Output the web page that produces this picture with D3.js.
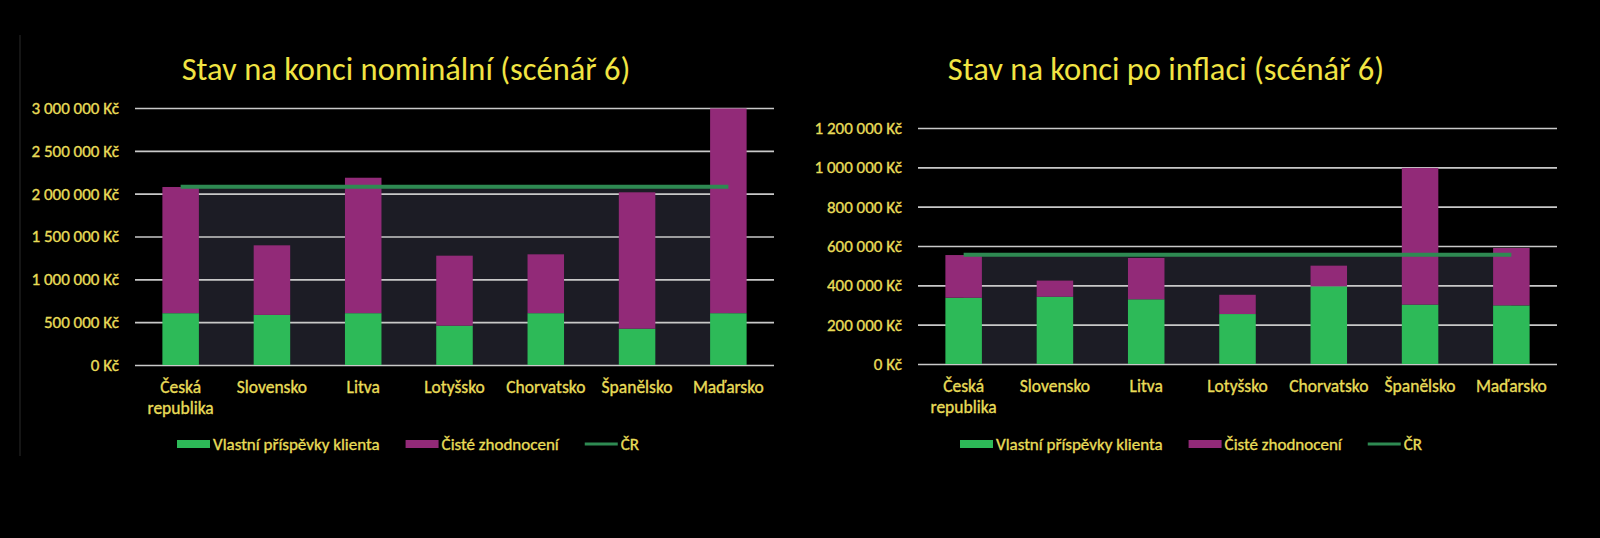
<!DOCTYPE html>
<html>
<head>
<meta charset="utf-8">
<script src="https://cdn.jsdelivr.net/npm/d3@7"></script>
<style>
  html, body { margin: 0; padding: 0; background: #000; }
  svg { display: block; font-family: Carlito, Calibri, Lato, sans-serif; }
</style>
</head>
<body>
<div id="chart"></div>
<script>
// categories
const countries = ["Česká republika", "Slovensko", "Litva", "Lotyšsko", "Chorvatsko", "Španělsko", "Maďarsko"];

// nominal (left chart)
const nominalContrib = [605000, 585000, 605000, 459000, 605000, 424000, 605000];
const nominalGrowth = [1473000, 812000, 1581000, 817000, 687000, 1592000, 2390000];
const nominalCR = [2080000, 2080000, 2080000, 2080000, 2080000, 2080000, 2080000];
const nominalTicks = [0, 500000, 1000000, 1500000, 2000000, 2500000, 3000000];

// after inflation (right chart)
const realContrib = [337000, 342000, 329000, 254000, 395000, 302000, 298000];
const realGrowth = [217000, 82000, 210000, 98000, 105000, 695000, 292000];
const realCR = [556000, 556000, 556000, 556000, 556000, 556000, 556000];
const realTicks = [0, 200000, 400000, 600000, 800000, 1000000, 1200000];

const seriesNames = ["Vlastní příspěvky klienta", "Čisté zhodnocení", "ČR"];

const width = 1600,
  height = 538;

const colGreen = "#2dba58",
  colPurple = "#922a78",
  colLine = "#2e8a52",
  colArea = "#1c1c25",
  colGrid = "#c9c9c9",
  colTitle = "#f1e443",
  colText = "#e8dc58";

const czk = d3.formatLocale({
  decimal: ",",
  thousands: "\u00a0",
  grouping: [3],
  currency: ["", "\u00a0Kč"]
});
const fmt = czk.format("$,.0f");

const svg = d3
  .select("#chart")
  .append("svg")
  .attr("width", width)
  .attr("height", height);

// faint frame line on the left edge
svg
  .append("line")
  .attr("x1", 20)
  .attr("x2", 20)
  .attr("y1", 35)
  .attr("y2", 456)
  .attr("stroke", "#1c1c1c")
  .attr("stroke-width", 1.5);

// small text in the picture looks a touch heavier than regular weight
function heavier(sel) {
  sel.attr("stroke", colText).attr("stroke-width", 0.35);
}

function drawChart(opt) {
  const g = svg.append("g");

  const x = d3
    .scaleBand()
    .domain(countries)
    .range([opt.left, opt.right])
    .paddingInner(0.6)
    .paddingOuter(0.3);

  const y = d3
    .scaleLinear()
    .domain([0, d3.max(opt.ticks)])
    .range([opt.bottom, opt.top]);

  const rows = countries.map(function(c, i) {
    return { key: c, contrib: opt.contrib[i], growth: opt.growth[i], cr: opt.cr[i] };
  });

  // title
  g.append("text")
    .attr("x", opt.titleX)
    .attr("y", 80)
    .attr("text-anchor", "middle")
    .attr("fill", colTitle)
    .style("font-size", "32.5px")
    .text(opt.title);

  // area under the ČR line (from first to last category)
  const area = d3
    .area()
    .x(function(d) { return x(d.key) + x.bandwidth() / 2; })
    .y0(y(0))
    .y1(function(d) { return y(d.cr); });

  g.append("path")
    .datum(rows)
    .attr("d", area)
    .attr("fill", colArea);

  // gridlines + y labels
  const yAxis = d3
    .axisLeft(y)
    .tickValues(opt.ticks)
    .tickSize(-(opt.right - opt.left))
    .tickPadding(16)
    .tickFormat(fmt);

  g.append("g")
    .attr("transform", "translate(" + opt.left + ",0)")
    .call(yAxis)
    .call(function(ax) {
      ax.select(".domain").remove();
      ax.selectAll(".tick line").attr("stroke", colGrid).attr("stroke-width", 1.6);
      ax.selectAll(".tick text")
        .attr("fill", colText)
        .style("font-size", "17px")
        .style("font-family", "Carlito, Calibri, Lato, sans-serif")
        .call(heavier);
    });

  // stacked bars
  const stack = d3.stack().keys(["contrib", "growth"]);
  const layers = stack(rows);
  const colors = [colGreen, colPurple];

  g.selectAll(".layer")
    .data(layers)
    .join("g")
    .attr("fill", function(d, i) { return colors[i]; })
    .selectAll("rect")
    .data(function(d) { return d; })
    .join("rect")
    .attr("x", function(d) { return x(d.data.key); })
    .attr("width", x.bandwidth())
    .attr("y", function(d) { return y(d[1]); })
    .attr("height", function(d) { return y(d[0]) - y(d[1]); });

  // ČR line
  const line = d3
    .line()
    .x(function(d) { return x(d.key) + x.bandwidth() / 2; })
    .y(function(d) { return y(d.cr); });

  g.append("path")
    .datum(rows)
    .attr("d", line)
    .attr("fill", "none")
    .attr("stroke", colLine)
    .attr("stroke-width", 4);

  // category labels, wrapped on space for "Česká republika"
  const labels = g
    .selectAll(".xlab")
    .data(countries)
    .join("text")
    .attr("class", "xlab")
    .attr("text-anchor", "middle")
    .attr("fill", colText)
    .style("font-size", "17.5px")
    .attr("x", function(d) { return x(d) + x.bandwidth() / 2; })
    .attr("y", opt.bottom + 28)
    .call(heavier);

  labels.each(function(d) {
    const words = d.split(" ");
    const t = d3.select(this);
    const cx = x(d) + x.bandwidth() / 2;
    words.forEach(function(w, i) {
      t.append("tspan")
        .attr("x", cx)
        .attr("dy", i === 0 ? 0 : 21)
        .text(w);
    });
  });

  // legend
  const leg = g.append("g").attr("transform", "translate(" + opt.legendX + ",444)");
  let lx = 0;
  seriesNames.forEach(function(name, i) {
    if (i < 2) {
      leg.append("rect")
        .attr("x", lx)
        .attr("y", -4)
        .attr("width", 33)
        .attr("height", 8)
        .attr("fill", colors[i]);
    } else {
      leg.append("line")
        .attr("x1", lx)
        .attr("x2", lx + 33)
        .attr("y1", 0)
        .attr("y2", 0)
        .attr("stroke", colLine)
        .attr("stroke-width", 3);
    }
    const txt = leg.append("text")
      .attr("x", lx + 36)
      .attr("y", 5.5)
      .attr("fill", colText)
      .style("font-size", "17px")
      .text(name)
      .call(heavier);
    lx += 36 + txt.node().getComputedTextLength() + 26;
  });
}

drawChart({
  title: "Stav na konci nominální (scénář 6)",
  titleX: 406,
  left: 135,
  right: 774,
  top: 108,
  bottom: 365,
  ticks: nominalTicks,
  contrib: nominalContrib,
  growth: nominalGrowth,
  cr: nominalCR,
  legendX: 177
});

drawChart({
  title: "Stav na konci po inflaci (scénář 6)",
  titleX: 1166,
  left: 918,
  right: 1557,
  top: 128,
  bottom: 364,
  ticks: realTicks,
  contrib: realContrib,
  growth: realGrowth,
  cr: realCR,
  legendX: 960
});
</script>
</body>
</html>
